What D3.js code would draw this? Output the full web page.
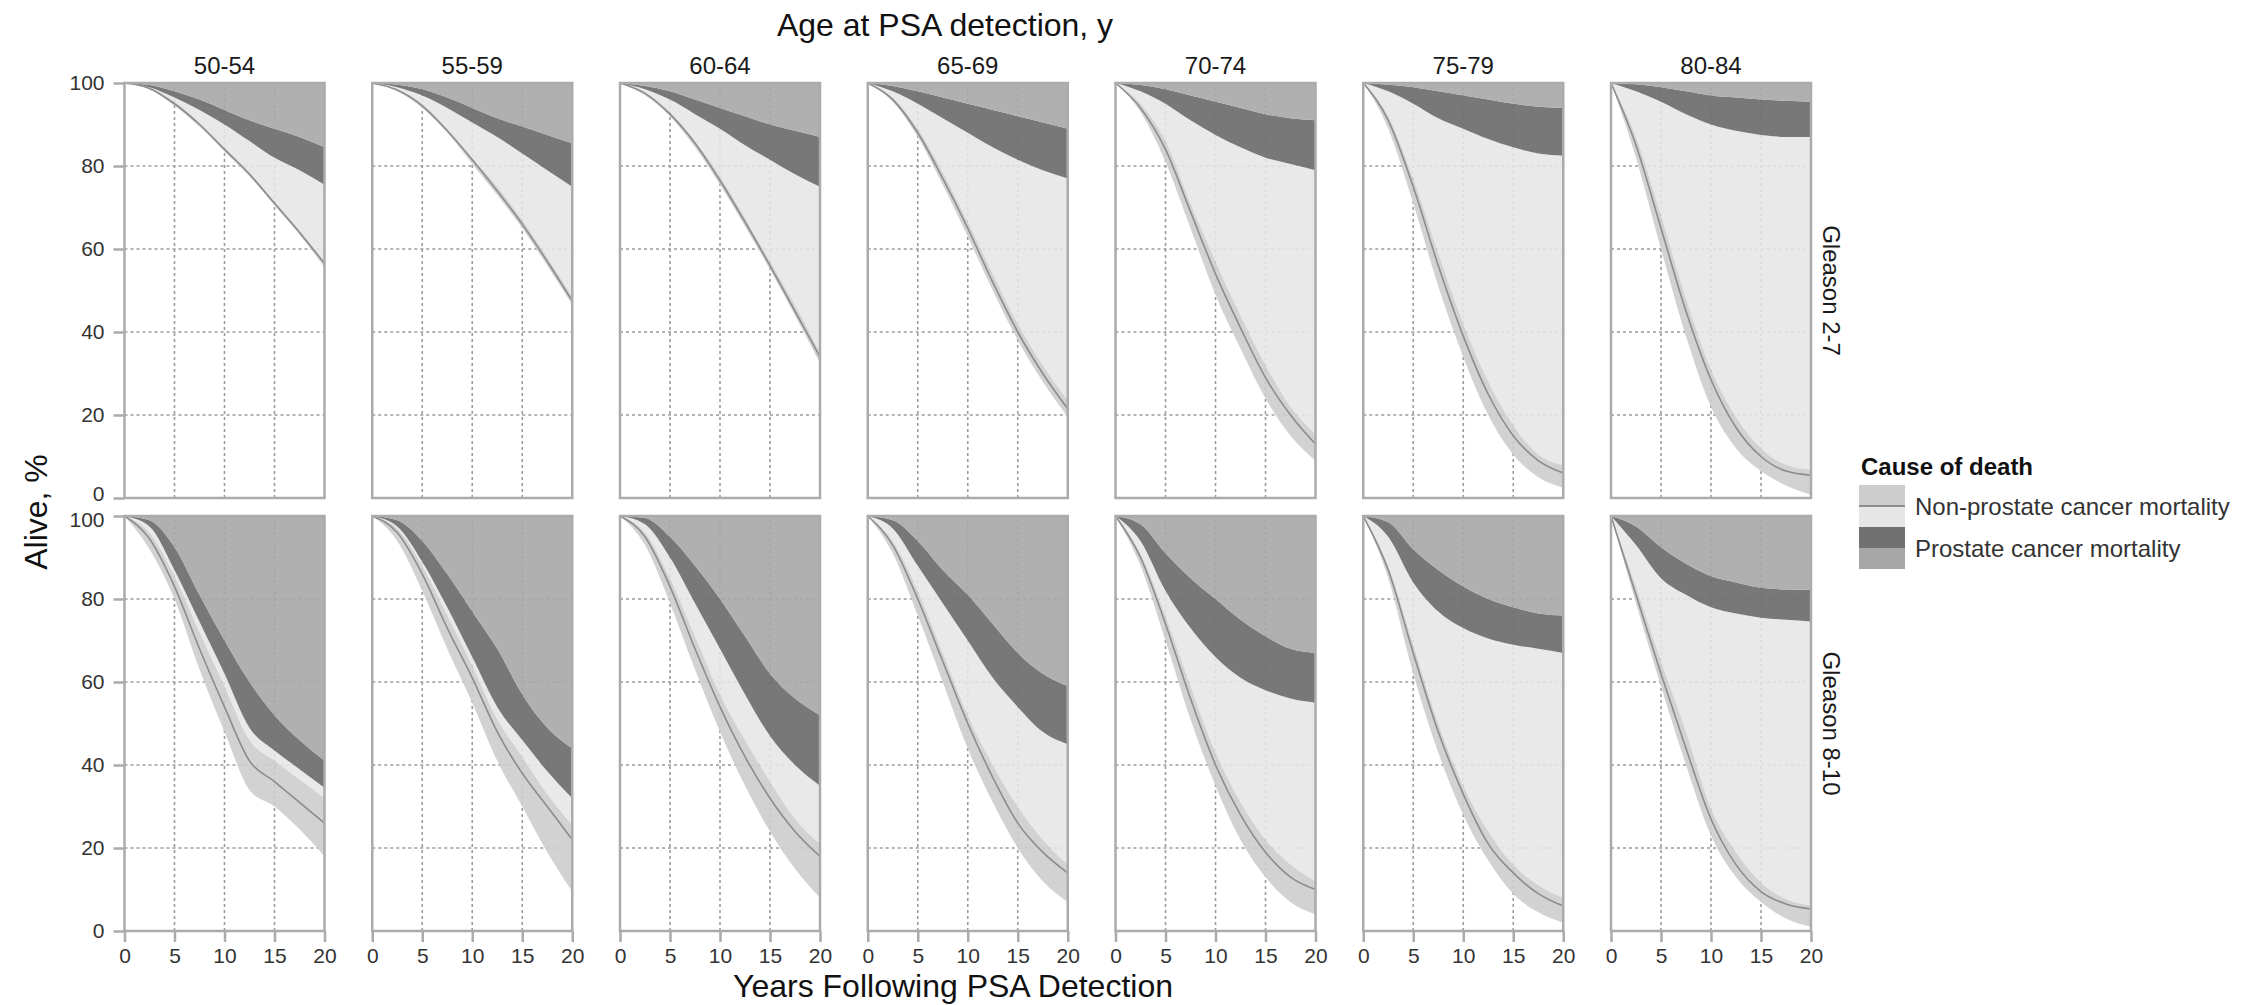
<!DOCTYPE html>
<html>
<head>
<meta charset="utf-8">
<script src="https://cdn.jsdelivr.net/npm/d3@7"></script>
<style>
  html, body { margin: 0; padding: 0; background: white; }
  svg text { font-family: "Liberation Sans", Arial, sans-serif; }
</style>
</head>
<body>
<div id="chart"></div>
<script>

var
  YEARS = [0, 2.5, 5, 7.5, 10, 12.5, 15, 17.5, 20],
  AGE_GROUPS = ["50-54", "55-59", "60-64", "65-69", "70-74", "75-79", "80-84"],
  GLEASON_GROUPS = ["Gleason 2-7", "Gleason 8-10"],
  X_TICKS = [0, 5, 10, 15, 20],
  Y_TICKS = [0, 20, 40, 60, 80, 100],
  CAUSES = ["Non-prostate cancer mortality", "Prostate cancer mortality"];

// alive (non-prostate cancer) band: lower edge, estimate, upper edge
// one row per age group, first Gleason 2-7 then Gleason 8-10
var nonProstateLow = [
  [100, 98.5, 94.5, 89.5, 83.5, 77.5, 70.5, 63.5, 55.5],
  [100, 98, 94, 88, 80.5, 73, 65, 56, 46.5],
  [100, 97, 92, 84.5, 75.5, 65.5, 55, 44, 32.5],
  [100, 95.5, 87, 75.5, 63, 50, 38, 28, 19.5],
  [100, 93, 81, 65, 49, 36, 24, 15, 9],
  [100, 89, 71, 51, 34, 20, 10.5, 5, 2.5],
  [100, 82, 60, 39, 22, 12, 6.5, 3, 0.8],
  [100, 92, 80, 63, 48, 34, 30, 24.5, 18],
  [100, 94, 82, 68, 55, 41, 30, 19, 9.5],
  [100, 93, 79, 63, 48, 35, 24, 15, 8],
  [100, 91, 76, 60, 44, 31, 20, 12, 7],
  [100, 88, 70, 51, 35, 22, 13, 7, 4],
  [100, 85, 62, 43, 28, 17, 9, 4.5, 2],
  [100, 79, 59, 40, 23, 13, 7, 3, 1]
];

var nonProstateLine = [
  [100, 98.7, 95, 90, 84, 78, 71, 64, 56.5],
  [100, 98.3, 94.5, 88.5, 81.5, 74, 66, 57, 47.5],
  [100, 97.5, 92.5, 85.5, 76.5, 66.5, 56, 45, 34],
  [100, 96, 88, 77, 65, 52, 40, 30, 21.5],
  [100, 94, 84, 69, 54, 41, 29, 20, 13],
  [100, 91, 75, 56, 39, 25, 15, 9, 6],
  [100, 85, 65, 45, 28.5, 17, 10, 6.5, 5.5],
  [100, 94.5, 83, 68, 54, 41, 36, 31, 26],
  [100, 96, 86, 73, 61, 48, 38, 30, 22],
  [100, 95, 83, 68, 54, 42, 32, 24, 18],
  [100, 93, 80, 65, 50, 37, 26, 19, 14],
  [100, 90, 74, 56, 40, 28, 19, 13, 10],
  [100, 87, 67, 48, 33, 21, 14, 9, 6],
  [100, 81, 62, 44, 27, 16, 9.5, 6.5, 5.3]
];

var nonProstateHigh = [
  [100, 99, 95.5, 90.5, 84.5, 78.5, 71.5, 64.5, 57],
  [100, 98.5, 95, 89, 82, 75, 67, 58, 48.5],
  [100, 97.8, 93, 86, 77.5, 67.5, 57, 46.5, 35],
  [100, 96.5, 89, 78.5, 66.5, 54, 42, 32, 23.5],
  [100, 95, 86, 71, 57, 44, 32, 22, 15.5],
  [100, 92, 77, 59, 42, 28, 17.5, 10.5, 8],
  [100, 87, 68, 48, 31, 19.5, 12, 8, 6.8],
  [100, 96, 85.5, 72, 59, 46, 41, 36.5, 32],
  [100, 97, 88, 76, 64, 51, 42, 33, 25.5],
  [100, 96, 85, 71, 57, 46, 36, 27, 21],
  [100, 94, 82, 67, 52, 40, 30, 22, 16],
  [100, 91, 76, 59, 43, 31, 22, 16, 12],
  [100, 88, 69, 50, 35, 24, 16, 11, 8],
  [100, 83, 65, 48, 29.5, 19, 11.7, 7.7, 6.1]
];

// prostate cancer mortality band: lower and upper edge
var prostateLow = [
  [100, 99, 96.5, 93.5, 90, 86, 82, 79, 75.5],
  [100, 99, 97, 94, 90.5, 87, 83, 79, 75],
  [100, 98.5, 96, 92.5, 89, 85, 81.5, 78, 75],
  [100, 98, 95, 91.5, 88, 84.5, 81.5, 79, 77],
  [100, 98, 95, 91, 87.5, 84.5, 82, 80.5, 79],
  [100, 98, 95, 91.5, 89, 86.5, 84.5, 83, 82.5],
  [100, 98, 95.5, 92.5, 90, 88.5, 87.5, 87, 87],
  [100, 97.5, 87, 74.5, 62, 49, 43.5, 39, 34.5],
  [100, 97.5, 89, 78, 66, 54, 46, 38.5, 32],
  [100, 98, 90, 79, 68, 57, 47, 40, 35],
  [100, 97, 88, 79, 70, 61, 54, 48, 45],
  [100, 94, 82, 73, 66, 61, 58, 56, 55],
  [100, 95, 84, 77, 73, 70.5, 69, 68, 67],
  [100, 93, 85, 81, 78, 76.5, 75.5, 75, 74.6]
];

var prostateHigh = [
  [100, 99.5, 98, 96, 93.5, 91, 89, 87, 84.5],
  [100, 99.6, 98.5, 96.5, 94, 91.5, 89.5, 87.5, 85.5],
  [100, 99.3, 98, 96, 94, 92, 90, 88.5, 87],
  [100, 99.3, 98, 96.5, 95, 93.5, 92, 90.5, 89],
  [100, 99.5, 98.5, 97, 95.5, 94, 92.5, 91.5, 91],
  [100, 99.6, 99, 98, 97, 96, 95, 94.3, 94],
  [100, 99.7, 99, 98, 97, 96.5, 96, 95.7, 95.5],
  [100, 99, 92.5, 81, 70, 60, 52, 46, 41],
  [100, 99, 94, 86, 77, 68, 57, 49, 44],
  [100, 99.5, 95, 88, 80, 71, 62, 56, 52],
  [100, 99, 94, 87, 81, 74, 67, 62, 59],
  [100, 98, 91, 85, 80, 75, 71, 68, 67],
  [100, 98.5, 92, 87, 83, 80, 78, 76.5, 76],
  [100, 97.5, 92.5, 88.5, 85.5, 84, 82.7, 82.3, 82.2]
];

var
  chartBox = document.getElementById("chart"),

  WIDTH = 2256,
  HEIGHT = 1005,

  FONT_TICK = 21,
  FONT_STRIP = 24,
  FONT_TITLE = 32,
  FONT_LEGEND = 24,

  PANEL_LEFT = 124.5,
  PANEL_STEP = 247.75,
  PANEL_WIDTH = 200,
  PANEL_HEIGHT = 415,
  ROW_TOPS = [83, 516],

  TEXT_COLOR = "#333333",
  BORDER_COLOR = "#ababab",
  GRID_COLOR = "#9c9c9c",
  LIGHT_FILL = "#e6e6e6",
  RIBBON_FILL = "#cdcdcd",
  LINE_COLOR = "#8c8c8c",
  DARK_FILL = "#717171",
  MEDIUM_FILL = "#a7a7a7";

function band(x, y, low, high){
  return d3.area()
    .curve(d3.curveMonotoneX)
    .x(function(d, i){ return x(YEARS[i]); })
    .y0(function(d, i){ return y(low[i]); })
    .y1(function(d, i){ return y(high[i]); })(YEARS);
}

function drawPanel(svg, row, col){
  var
    index = row * AGE_GROUPS.length + col,
    left = PANEL_LEFT + col * PANEL_STEP,
    top = ROW_TOPS[row],
    x = d3.scaleLinear().domain([0, 20]).range([left, left + PANEL_WIDTH]),
    y = d3.scaleLinear().domain([0, 100]).range([top + PANEL_HEIGHT, top]),
    g = svg.append("g"),
    top100 = YEARS.map(function(){ return 100; });

  // dotted grid, under the bands
  g.selectAll(".gx").data(X_TICKS.slice(1, -1)).enter().append("line")
    .attr("x1", x).attr("x2", x)
    .attr("y1", y(0)).attr("y2", y(100))
    .attr("stroke", GRID_COLOR).attr("stroke-width", 1.6)
    .attr("stroke-dasharray", "3,3");
  g.selectAll(".gy").data(Y_TICKS.slice(1, -1)).enter().append("line")
    .attr("x1", x(0)).attr("x2", x(20))
    .attr("y1", y).attr("y2", y)
    .attr("stroke", GRID_COLOR).attr("stroke-width", 1.6)
    .attr("stroke-dasharray", "3,3");

  g.append("path")
    .attr("d", band(x, y, nonProstateHigh[index], prostateLow[index]))
    .attr("fill", LIGHT_FILL).attr("fill-opacity", 0.88);
  g.append("path")
    .attr("d", band(x, y, nonProstateLow[index], nonProstateHigh[index]))
    .attr("fill", RIBBON_FILL).attr("fill-opacity", 0.9);
  g.append("path")
    .attr("d", band(x, y, prostateLow[index], prostateHigh[index]))
    .attr("fill", DARK_FILL).attr("fill-opacity", 0.95);
  g.append("path")
    .attr("d", band(x, y, prostateHigh[index], top100))
    .attr("fill", MEDIUM_FILL).attr("fill-opacity", 0.9);

  g.append("path")
    .attr("d", d3.line()
      .curve(d3.curveMonotoneX)
      .x(function(d, i){ return x(YEARS[i]); })
      .y(function(d){ return y(d); })(nonProstateLine[index]))
    .attr("fill", "none")
    .attr("stroke", LINE_COLOR)
    .attr("stroke-width", 1.6);

  g.append("rect")
    .attr("x", x(0)).attr("y", y(100))
    .attr("width", PANEL_WIDTH).attr("height", PANEL_HEIGHT)
    .attr("fill", "none")
    .attr("stroke", BORDER_COLOR)
    .attr("stroke-width", 2.5);

  if (row === 0) {
    svg.append("text")
      .attr("x", x(10)).attr("y", 74)
      .attr("text-anchor", "middle")
      .attr("font-size", FONT_STRIP)
      .attr("fill", "#1a1a1a")
      .text(AGE_GROUPS[col]);
  }

  if (col === 0) {
    var yAxis = g.append("g")
      .attr("transform", "translate(" + x(0) + ",0)")
      .call(d3.axisLeft(y).tickValues(Y_TICKS).tickSize(11).tickPadding(9));
    styleAxis(yAxis);
    // keep the 0 of the top row clear of the 100 of the bottom row
    yAxis.selectAll(".tick text")
      .filter(function(d){ return (row === 0 && d === 0) || (row === 1 && d === 100); })
      .attr("transform", row === 0 ? "translate(0,-4)" : "translate(0,4)");
  }

  if (row === 1) {
    var xAxis = g.append("g")
      .attr("transform", "translate(0," + y(0) + ")")
      .call(d3.axisBottom(x).tickValues(X_TICKS).tickSize(11).tickPadding(6));
    styleAxis(xAxis);
  }

  if (col === AGE_GROUPS.length - 1) {
    var cx = 1831, cy = top + PANEL_HEIGHT / 2;
    svg.append("text")
      .attr("transform", "translate(" + cx + "," + cy + ") rotate(90)")
      .attr("text-anchor", "middle")
      .attr("dominant-baseline", "central")
      .attr("font-size", FONT_STRIP)
      .attr("fill", "#1a1a1a")
      .text(GLEASON_GROUPS[row]);
  }
}

function styleAxis(axis){
  axis.select(".domain").remove();
  axis.selectAll(".tick line")
    .attr("stroke", BORDER_COLOR)
    .attr("stroke-width", 2.5);
  axis.selectAll(".tick text")
    .attr("font-size", FONT_TICK)
    .attr("font-family", "Liberation Sans, Arial, sans-serif")
    .attr("fill", TEXT_COLOR);
}

function drawLegend(svg){
  var
    left = 1859,
    keyWidth = 46,
    keyHeight = 42,
    top = 485,
    g = svg.append("g");

  g.append("text")
    .attr("x", left + 2).attr("y", 475)
    .attr("font-size", FONT_LEGEND)
    .attr("font-weight", "bold")
    .attr("fill", "#111")
    .text("Cause of death");

  // non-prostate key: ribbon over light fill, with the estimate line
  g.append("rect")
    .attr("x", left).attr("y", top)
    .attr("width", keyWidth).attr("height", keyHeight)
    .attr("fill", LIGHT_FILL);
  g.append("rect")
    .attr("x", left).attr("y", top)
    .attr("width", keyWidth).attr("height", keyHeight / 2)
    .attr("fill", RIBBON_FILL);
  g.append("line")
    .attr("x1", left).attr("x2", left + keyWidth)
    .attr("y1", top + keyHeight / 2).attr("y2", top + keyHeight / 2)
    .attr("stroke", LINE_COLOR).attr("stroke-width", 2);

  // prostate key: dark band over medium fill
  g.append("rect")
    .attr("x", left).attr("y", top + keyHeight)
    .attr("width", keyWidth).attr("height", keyHeight)
    .attr("fill", MEDIUM_FILL);
  g.append("rect")
    .attr("x", left).attr("y", top + keyHeight)
    .attr("width", keyWidth).attr("height", keyHeight / 2)
    .attr("fill", DARK_FILL);

  g.selectAll(".label").data(CAUSES).enter().append("text")
    .attr("x", left + keyWidth + 10)
    .attr("y", function(d, i){ return top + keyHeight * (i + 0.5); })
    .attr("dominant-baseline", "central")
    .attr("font-size", FONT_LEGEND)
    .attr("fill", TEXT_COLOR)
    .text(function(d){ return d; });
}

function renderChart(){
  var svg = d3.select(chartBox).append("svg")
    .attr("width", WIDTH)
    .attr("height", HEIGHT);

  svg.append("rect")
    .attr("width", WIDTH).attr("height", HEIGHT)
    .attr("fill", "white");

  GLEASON_GROUPS.forEach(function(g, row){
    AGE_GROUPS.forEach(function(a, col){
      drawPanel(svg, row, col);
    });
  });

  svg.append("text")
    .attr("x", 945).attr("y", 36)
    .attr("text-anchor", "middle")
    .attr("font-size", FONT_TITLE)
    .attr("fill", "#111")
    .text("Age at PSA detection, y");

  svg.append("text")
    .attr("x", 953).attr("y", 997)
    .attr("text-anchor", "middle")
    .attr("font-size", FONT_TITLE)
    .attr("fill", "#111")
    .text("Years Following PSA Detection");

  svg.append("text")
    .attr("transform", "translate(36,512) rotate(-90)")
    .attr("text-anchor", "middle")
    .attr("dominant-baseline", "central")
    .attr("font-size", FONT_TITLE)
    .attr("fill", "#111")
    .text("Alive, %");

  drawLegend(svg);
}

renderChart();

</script>
</body>
</html>
